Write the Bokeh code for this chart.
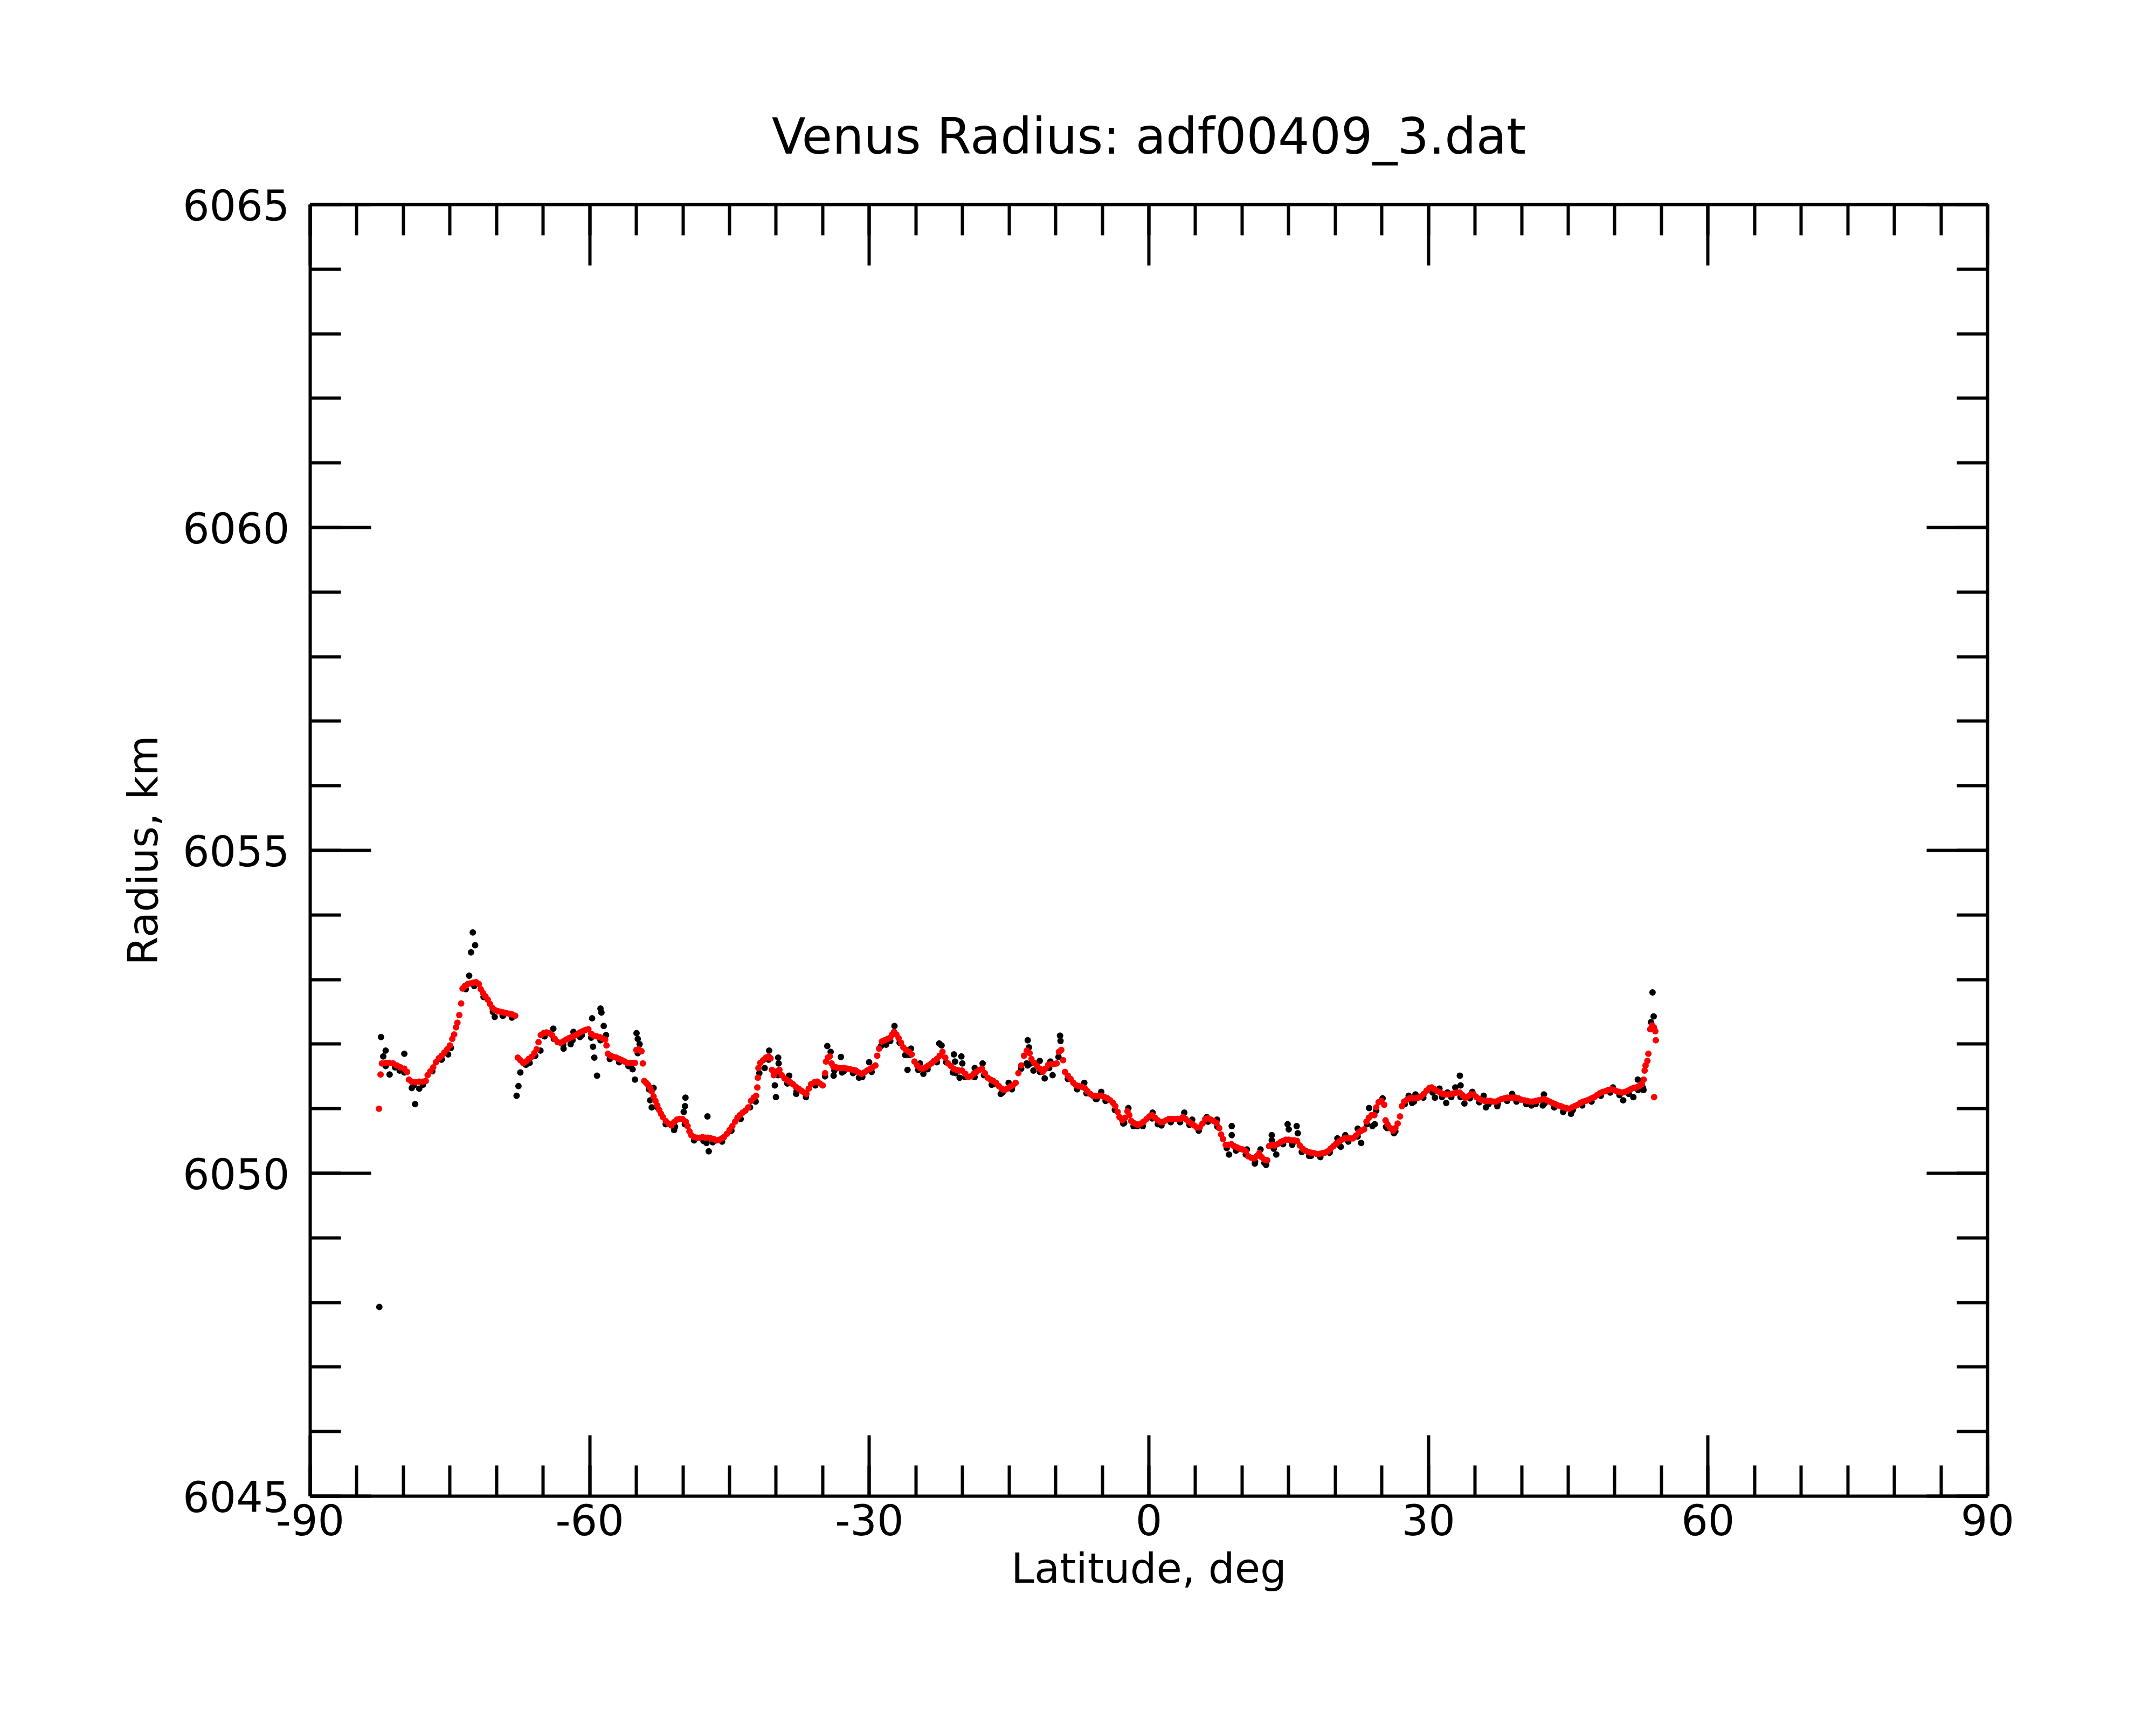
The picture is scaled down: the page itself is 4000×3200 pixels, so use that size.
from bokeh.plotting import figure
from bokeh.models import Range1d, LinearAxis, FixedTicker
from bokeh.embed import file_html
from bokeh.resources import INLINE

# ---------------- data ----------------
red_lat = [
-82.62,-82.45,-82.3,-81.9,-81.5,-81.1,-80.7,-80.3,-79.9,-79.6,-79.4,-79.1,-78.7,-78.3,-77.9,-77.6,-77.4,-77.1,-76.8,-76.5,
-76.2,-75.9,-75.6,-75.3,-75.0,-74.75,-74.55,-74.35,-74.2,-74.0,-73.8,-73.65,-73.4,-73.1,-72.8,-72.5,-72.2,-71.9,-71.7,-71.45,
-71.2,-70.95,-70.7,-70.45,-70.2,-69.85,-69.55,-69.25,-68.95,-68.65,-68.35,-68.0,
-67.72,-67.45,-67.15,-66.85,-66.55,-66.25,-65.95,-65.7,-65.5,-65.25,-64.95,-64.65,-64.35,-64.05,-63.75,-63.45,-63.15,-62.85,
-62.55,-62.25,-61.95,-61.65,-61.35,-61.05,-60.75,-60.45,-60.15,-59.85,-59.55,-59.25,-58.95,-58.65,-58.35,-58.2,-58.05,-57.75,
-57.45,-57.15,-56.85,-56.55,-56.25,-55.95,-55.65,-55.35,-55.15,-55.0,-54.75,-54.45,-54.3,-54.15,-53.95,-53.75,-53.55,-53.35,
-53.15,-52.95,-52.75,-52.55,-52.35,-52.15,-51.85,-51.55,-51.25,-50.95,-50.65,-50.35,-50.05,-49.7,-49.5,-49.3,-49.1,-48.8,
-48.5,-48.2,-47.9,-47.6,-47.3,-47.0,-46.7,-46.4,-46.1,-45.8,-45.6,-45.3,-45.0,-44.7,-44.4,-44.15,-43.9,-43.6,-43.3,-43.0,
-42.7,-42.4,-42.15,-42.02,-41.96,-41.9,-41.7,-41.4,-41.1,-40.8,-40.6,-40.45,-40.25,-39.9,-39.65,-39.4,-39.1,-38.8,-38.5,-38.2,
-37.9,-37.6,-37.3,-37.0,-36.75,-36.5,-36.25,-35.9,-35.6,-35.3,-35.0,-34.75,-34.65,-34.45,-34.25,-34.05,-33.85,-33.55,-33.25,-32.95,
-32.65,-32.35,-32.05,-31.75,-31.45,-31.15,-30.85,-30.55,-30.25,-29.95,-29.65,-29.35,-29.15,-28.95,-28.65,-28.35,-28.05,-27.75,-27.55,-27.35,
-27.1,-26.85,-26.6,-26.35,-26.05,-25.75,-25.45,-25.15,-24.85,-24.55,-24.25,-23.95,-23.65,-23.35,-23.05,-22.75,-22.45,-22.15,-21.85,-21.55,
-21.25,-20.95,-20.65,-20.35,-20.05,-19.7,-19.4,-19.1,-18.8,-18.5,-18.2,-17.9,-17.6,-17.3,-17.0,-16.7,-16.4,-16.1,-15.8,-15.5,
-15.2,-14.9,-14.6,-14.3,-14.0,-13.7,-13.4,-13.1,-12.8,-12.6,-12.3,-12.0,-11.7,-11.4,-11.1,-10.8,-10.5,-10.2,-9.9,-9.65,
-9.4,-9.2,-9.0,-8.7,-8.4,-8.1,-7.8,-7.5,-7.2,-6.9,-6.6,-6.3,-6.0,-5.7,-5.4,-5.1,-4.75,-4.45,-4.15,-3.85,
-3.6,-3.35,-3.15,-2.85,-2.55,-2.3,-2.1,-1.9,-1.65,-1.35,-1.15,-0.85,-0.55,-0.25,0.05,0.35,0.65,0.95,1.25,1.55,
1.85,2.15,2.45,2.75,3.05,3.35,3.65,3.95,4.25,4.55,4.85,5.15,5.45,5.75,6.05,6.35,6.65,6.95,7.25,7.55,
7.75,7.95,8.25,8.55,8.85,9.15,9.45,9.75,10.05,10.4,10.7,11.0,11.3,11.6,11.85,12.1,12.4,12.7,12.9,13.2,
13.5,13.8,14.1,14.4,14.7,15.0,15.3,15.6,15.9,16.2,16.5,16.8,17.1,17.4,17.7,18.0,18.3,18.6,18.9,19.2,
19.5,19.8,20.1,20.4,20.7,21.0,21.3,21.6,21.9,22.2,22.5,22.8,23.1,23.35,23.6,23.9,24.2,24.4,24.65,24.95,
25.25,25.4,25.6,25.9,26.2,26.45,26.7,26.95,27.15,27.4,27.7,28.0,28.3,28.6,28.9,29.2,29.5,29.8,30.1,30.35,
30.65,30.95,31.25,31.55,31.85,32.15,32.45,32.75,33.05,33.35,33.65,33.95,34.25,34.55,34.85,35.15,35.45,35.75,36.05,36.35,
36.65,36.95,37.25,37.55,37.85,38.15,38.45,38.75,39.05,39.35,39.65,39.95,40.3,40.6,40.9,41.2,41.5,41.8,42.1,42.4,
42.7,43.0,43.3,43.6,43.9,44.2,44.5,44.8,45.1,45.4,45.7,46.0,46.3,46.6,46.9,47.2,47.5,47.8,48.1,48.4,
48.7,49.0,49.3,49.6,49.9,50.2,50.5,50.8,51.1,51.4,51.7,52.0,52.3,52.6,52.9,53.1,53.2,53.3,53.5,53.6,
53.8,54.0,54.2,54.35,54.4,54.22,
]
red_r = [
6051.00,6051.53,6051.70,6051.71,6051.71,6051.70,6051.67,6051.64,6051.62,6051.57,6051.45,6051.42,6051.41,6051.42,6051.42,6051.43,6051.52,6051.58,6051.64,6051.72,
6051.78,6051.82,6051.87,6051.92,6051.98,6052.08,6052.15,6052.26,6052.33,6052.45,6052.63,6052.86,6052.90,6052.93,6052.94,6052.95,6052.96,6052.93,6052.85,6052.79,
6052.74,6052.69,6052.62,6052.56,6052.53,6052.51,6052.50,6052.49,6052.48,6052.47,6052.46,6052.44,
6051.79,6051.75,6051.71,6051.73,6051.77,6051.80,6051.86,6051.92,6052.03,6052.14,6052.17,6052.18,6052.17,6052.14,6052.08,6052.03,6052.02,6052.04,
6052.07,6052.09,6052.11,6052.13,6052.15,6052.18,6052.20,6052.22,6052.23,6052.16,6052.13,6052.12,6052.11,6052.09,6052.07,6051.98,6051.85,6051.82,
6051.80,6051.79,6051.77,6051.75,6051.73,6051.71,6051.71,6051.71,6051.71,6051.91,6051.92,6051.89,6051.70,6051.43,6051.40,6051.37,6051.33,6051.27,
6051.19,6051.12,6051.05,6050.98,6050.92,6050.87,6050.81,6050.77,6050.74,6050.79,6050.83,6050.84,6050.84,6050.80,6050.73,6050.65,6050.59,6050.56,
6050.55,6050.55,6050.56,6050.55,6050.55,6050.54,6050.53,6050.51,6050.52,6050.54,6050.56,6050.61,6050.67,6050.73,6050.80,6050.86,6050.90,6050.94,6050.97,6051.02,
6051.12,6051.17,6051.20,6051.33,6051.48,6051.63,6051.71,6051.75,6051.79,6051.81,6051.78,6051.60,6051.52,6051.58,6051.60,6051.52,6051.47,6051.44,6051.41,6051.38,
6051.34,6051.31,6051.28,6051.25,6051.23,6051.31,6051.38,6051.41,6051.42,6051.39,6051.36,6051.55,6051.73,6051.79,6051.81,6051.70,6051.65,6051.64,6051.63,6051.63,
6051.63,6051.62,6051.61,6051.60,6051.59,6051.56,6051.54,6051.56,6051.59,6051.61,6051.64,6051.67,6051.82,6051.93,6052.04,6052.06,6052.08,6052.10,6052.15,6052.19,
6052.15,6052.09,6052.02,6051.95,6051.91,6051.88,6051.84,6051.73,6051.67,6051.63,6051.62,6051.64,6051.67,6051.70,6051.74,6051.77,6051.82,6051.88,6051.79,6051.70,
6051.66,6051.62,6051.60,6051.59,6051.59,6051.54,6051.49,6051.50,6051.54,6051.57,6051.60,6051.62,6051.55,6051.48,6051.45,6051.43,6051.40,6051.35,6051.31,6051.29,
6051.31,6051.34,6051.36,6051.40,6051.55,6051.67,6051.82,6051.90,6051.86,6051.77,6051.71,6051.66,6051.62,6051.57,6051.62,6051.68,6051.69,6051.69,6051.70,6051.88,
6051.91,6051.75,6051.57,6051.51,6051.46,6051.40,6051.36,6051.35,6051.34,6051.32,6051.27,6051.23,6051.20,6051.20,6051.20,6051.20,6051.18,6051.16,6051.13,6051.09,
6051.04,6050.95,6050.87,6050.82,6050.86,6050.96,6050.90,6050.81,6050.78,6050.76,6050.75,6050.77,6050.80,6050.84,6050.88,6050.90,6050.86,6050.82,6050.79,6050.80,
6050.82,6050.84,6050.84,6050.84,6050.84,6050.84,6050.87,6050.84,6050.80,6050.77,6050.74,6050.71,6050.71,6050.77,6050.84,6050.85,6050.83,6050.81,6050.78,6050.70,
6050.60,6050.53,6050.44,6050.44,6050.45,6050.42,6050.40,6050.38,6050.37,6050.34,6050.26,6050.24,6050.23,6050.27,6050.31,6050.25,6050.21,6050.20,6050.42,6050.44,
6050.43,6050.45,6050.48,6050.50,6050.52,6050.52,6050.51,6050.51,6050.50,6050.43,6050.38,6050.35,6050.33,6050.32,6050.31,6050.30,6050.30,6050.31,6050.32,6050.34,
6050.38,6050.42,6050.46,6050.49,6050.52,6050.54,6050.54,6050.54,6050.54,6050.58,6050.63,6050.66,6050.68,6050.80,6050.86,6050.90,6050.90,6051.02,6051.10,6051.12,
6051.06,6050.82,6050.76,6050.70,6050.66,6050.70,6050.77,6050.88,6051.04,6051.11,6051.14,6051.16,6051.16,6051.16,6051.17,6051.19,6051.23,6051.28,6051.32,6051.33,
6051.30,6051.27,6051.25,6051.23,6051.22,6051.22,6051.23,6051.24,6051.25,6051.25,6051.21,6051.17,6051.19,6051.22,6051.22,6051.18,6051.15,6051.13,6051.12,6051.12,
6051.12,6051.11,6051.11,6051.13,6051.15,6051.16,6051.17,6051.17,6051.17,6051.17,6051.16,6051.14,6051.13,6051.12,6051.11,6051.11,6051.12,6051.13,6051.14,6051.15,
6051.13,6051.11,6051.09,6051.07,6051.05,6051.04,6051.02,6051.01,6051.00,6051.02,6051.04,6051.06,6051.09,6051.11,6051.12,6051.14,6051.16,6051.18,6051.21,6051.24,
6051.26,6051.27,6051.29,6051.30,6051.29,6051.27,6051.26,6051.25,6051.26,6051.28,6051.30,6051.32,6051.33,6051.35,6051.38,6051.45,6051.59,6051.67,6051.74,6051.85,
6052.23,6052.29,6052.26,6052.20,6052.06,6051.18,
]

# raw measurements lying along the smoothed curve
black_lat = [
-81.9,-80.9,-79.9,-78.9,-77.9,-76.9,-75.9,-74.9,-73.3,-72.4,-71.4,-70.4,-69.35,-68.35,
-66.85,-65.85,-64.85,-63.85,-62.85,-61.85,-60.85,-59.85,-58.85,-57.85,-56.85,-55.85,-54.85,-53.65,-52.85,-51.85,
-50.85,-49.8,-48.8,-47.8,-46.8,-45.8,-44.8,-43.8,-42.8,-41.8,-40.8,-39.8,-38.8,-37.8,-36.8,-35.8,-34.75,-33.75,
-32.75,-31.75,-30.75,-29.75,-28.75,-27.75,-26.75,-25.75,-24.75,-23.75,-22.75,-21.75,-20.75,-19.7,-18.7,-17.7,
-16.7,-15.7,-14.7,-13.7,-12.7,-11.7,-10.7,-9.7,-8.7,-7.7,-6.7,-5.7,-4.65,-3.65,-2.65,-1.65,-0.65,0.35,1.35,2.35,
3.35,4.35,5.35,6.35,7.35,8.35,9.35,10.4,11.4,12.4,13.4,14.4,15.4,16.4,17.4,18.4,19.4,20.4,21.4,22.4,23.4,24.4,
25.45,26.45,27.45,28.45,29.45,30.45,31.45,32.45,33.45,34.45,35.45,36.45,37.45,38.45,39.45,40.5,41.5,42.5,43.5,
44.5,45.5,46.5,47.5,48.5,49.5,50.5,51.5,52.5,53.0,
]
black_r = [
6051.66,6051.64,6051.56,6051.36,6051.37,6051.58,6051.77,6051.94,6052.85,6052.90,6052.73,6052.50,6052.44,6052.41,
6051.68,6051.82,6052.12,6052.08,6051.99,6052.06,6052.14,6052.10,6052.06,6051.77,6051.72,6051.66,6051.86,6051.30,6051.03,6050.76,
6050.72,6050.76,6050.51,6050.50,6050.48,6050.49,6050.66,6050.84,6051.02,6051.55,6051.76,6051.52,6051.39,6051.27,6051.18,6051.36,6051.50,6051.59,
6051.58,6051.55,6051.49,6051.57,6051.97,6052.05,6052.02,6051.83,6051.60,6051.61,6051.72,6051.72,6051.55,6051.49,6051.49,6051.52,
6051.38,6051.25,6051.30,6051.62,6051.70,6051.57,6051.63,6051.80,6051.46,6051.30,6051.24,6051.15,6051.12,6050.98,6050.78,6050.73,6050.73,6050.85,6050.74,6050.79,
6050.79,6050.75,6050.66,6050.80,6050.72,6050.39,6050.35,6050.29,6050.18,6050.16,6050.38,6050.45,6050.46,6050.33,6050.27,6050.25,6050.32,6050.44,6050.49,6050.57,6050.76,6050.97,
6050.72,6050.65,6051.07,6051.11,6051.17,6051.25,6051.18,6051.18,6051.18,6051.16,6051.10,6051.07,6051.08,6051.12,6051.11,6051.07,6051.07,6051.09,6051.02,
6050.97,6050.98,6051.05,6051.11,6051.20,6051.25,6051.21,6051.23,6051.29,6051.33,
]

# raw measurements scattered away from the smoothed curve
out_lat = [
-82.58,-82.4,-82.16,-81.9,-81.48,-79.9,-80.4,-79.1,-78.74,-78.3,-75.9,-75.2,-72.94,-72.74,-72.3,-72.55,-70.2,-69.3,
-67.85,-67.65,-67.45,-66.45,-65.29,-63.91,-62.81,-62.05,-61.75,-61.05,-59.75,-59.65,-59.51,-59.22,-58.85,-58.75,-58.5,-58.25,
-54.98,-54.85,-54.65,-55.4,-55.15,-53.15,-53.52,-53.35,-50.95,
-49.73,-49.78,-49.92,-47.37,-47.23,-47.47,-42.2,-40.75,-41.23,-40.02,-40.14,-39.78,-39.73,-38.6,-37.84,
-34.51,-34.15,-33.83,-33.05,-32.93,-31.11,-30.02,-28.2,-27.3,-26.14,-25.9,-25.53,-24.56,-24.2,-22.5,-22.25,
-20.92,-20.8,-20.12,-20.02,-21.04,-20.31,-18.69,-17.84,-16.87,-15.9,-15.05,-13.0,-12.87,-13.0,
-13.12,-12.39,-11.71,-11.18,-10.57,-10.33,-9.53,-9.48,-6.93,-5.6,-5.11,-2.75,-2.2,-1.23,0.4,0.96,3.8,4.65,5.37,6.22,
7.32,8.89,8.89,8.6,10.52,11.37,11.98,12.58,13.19,13.19,13.67,14.89,15.01,15.86,15.98,15.38,17.2,19.38,20.23,21.08,
20.59,22.41,22.78,23.63,23.99,
24.24,25.08,25.57,26.3,27.88,28.25,28.61,30.7,31.18,31.91,32.03,32.88,33.37,33.45,33.86,34.71,35.93,36.17,37.39,38.98,
41.05,42.39,42.27,44.46,45.3,49.8,50.9,51.99,52.47,53.08,54.05,54.17,53.88,
]
out_r = [
6047.93,6052.11,6051.81,6051.90,6051.53,6051.85,6051.59,6051.32,6051.07,6051.31,6051.76,6051.84,6053.06,6053.42,6053.53,6053.73,6052.42,6052.44,
6051.20,6051.35,6051.56,6051.71,6051.90,6052.24,6051.93,6052.00,6052.19,6052.11,6052.40,6051.96,6051.79,6051.51,6052.55,6052.49,6052.28,6052.14,
6052.17,6052.08,6052.00,6051.61,6051.45,6051.32,6051.13,6051.02,6050.67,
6051.17,6051.04,6050.95,6050.88,6050.34,6050.47,6051.11,6051.90,6051.63,6051.18,6051.36,6051.79,6051.70,6051.51,6051.23,
6051.97,6051.88,6051.51,6051.80,6051.56,6051.48,6051.72,6051.99,6052.28,6051.83,6051.60,6051.93,6051.70,6051.54,6052.01,6051.98,
6051.84,6051.73,6051.81,6051.70,6051.56,6051.48,6051.63,6051.70,6051.37,6051.23,6051.40,6052.06,6051.95,6051.67,
6051.70,6051.59,6051.74,6051.47,6051.73,6051.52,6052.13,6052.05,6051.40,6051.15,6051.26,6050.77,6051.01,6050.73,6050.94,6050.76,6050.94,6050.83,6050.68,6050.87,
6050.83,6050.73,6050.59,6050.29,6050.37,6050.15,6050.37,6050.13,6050.59,6050.51,6050.29,6050.76,6050.68,6050.73,6050.62,6050.44,6050.27,6050.32,6050.54,6050.59,
6050.41,6050.69,6050.47,6051.01,6050.73,
6050.76,6051.16,6050.70,6050.62,6051.20,6051.09,6051.22,6051.17,6051.31,6051.09,6051.25,6051.33,6051.51,6051.36,6051.08,6051.26,6051.20,6051.02,6051.04,6051.23,
6051.05,6051.22,6051.05,6050.95,6050.92,6051.33,6051.13,6051.18,6051.45,6051.29,6052.80,6052.43,6052.34,
]

x_major = [-90, -60, -30, 0, 30, 60, 90]
x_major_text = ["-90", "-60", "-30", "0", "30", "60", "90"]
x_minor = list(range(-90, 91, 5))
y_major = [6045, 6050, 6055, 6060, 6065]
y_minor = list(range(6045, 6066, 1))

title_text = "Venus Radius: adf00409_3.dat"
x_label = "Latitude, deg"
y_label = "Radius, km"

# ---------------- figure ----------------
FONT = "DejaVu Sans"
W, H = 3984, 3184
p = figure(width=W, height=H, output_backend="svg", toolbar_location=None,
           x_range=Range1d(-90, 90), y_range=Range1d(6045, 6065),
           x_axis_location=None, y_axis_location=None,
           min_border_left=575, min_border_right=297,
           min_border_top=379, min_border_bottom=409,
           background_fill_color="white", border_fill_color="white")
p.outline_line_color = None
p.grid.visible = False

p.title.text = title_text
p.title.align = "center"
p.title.text_font = FONT
p.title.text_font_size = "92px"
p.title.text_font_style = "normal"
p.title.text_color = "black"
p.title.standoff = 146


def style(ax):
    ax.axis_line_width = 6
    ax.axis_line_color = "black"
    ax.major_tick_line_width = 6
    ax.minor_tick_line_width = 6
    ax.major_tick_line_color = "black"
    ax.minor_tick_line_color = "black"
    ax.major_tick_in = 113
    ax.major_tick_out = 0
    ax.minor_tick_in = 57
    ax.minor_tick_out = 0
    ax.major_label_text_font = FONT
    ax.major_label_text_font_size = "78px"
    ax.major_label_text_color = "black"
    ax.axis_label_text_font = FONT
    ax.axis_label_text_font_size = "77px"
    ax.axis_label_text_font_style = "normal"
    ax.axis_label_text_color = "black"


xb = LinearAxis(ticker=FixedTicker(ticks=x_major, minor_ticks=x_minor), axis_label=x_label)
style(xb)
xb.major_label_overrides = dict(zip(x_major, x_major_text))
xb.major_label_standoff = 14
xb.axis_label_standoff = 14
p.add_layout(xb, "below")

xt = LinearAxis(ticker=FixedTicker(ticks=x_major, minor_ticks=x_minor))
style(xt)
xt.major_label_overrides = {t: "" for t in x_major}
xt.major_label_standoff = 0
p.add_layout(xt, "above")

yl = LinearAxis(ticker=FixedTicker(ticks=y_major, minor_ticks=y_minor), axis_label=y_label)
style(yl)
yl.major_label_standoff = 38
yl.axis_label_standoff = 26
p.add_layout(yl, "left")

yr = LinearAxis(ticker=FixedTicker(ticks=y_major, minor_ticks=y_minor))
style(yr)
yr.major_label_overrides = {t: "" for t in y_major}
p.add_layout(yr, "right")

p.scatter(black_lat, black_r, size=12, color="black", line_color=None)
p.scatter(out_lat, out_r, size=12, color="black", line_color=None)
p.scatter(red_lat, red_r, size=12, color="red", line_color=None)

open("out.html", "w").write(file_html(p, INLINE))
